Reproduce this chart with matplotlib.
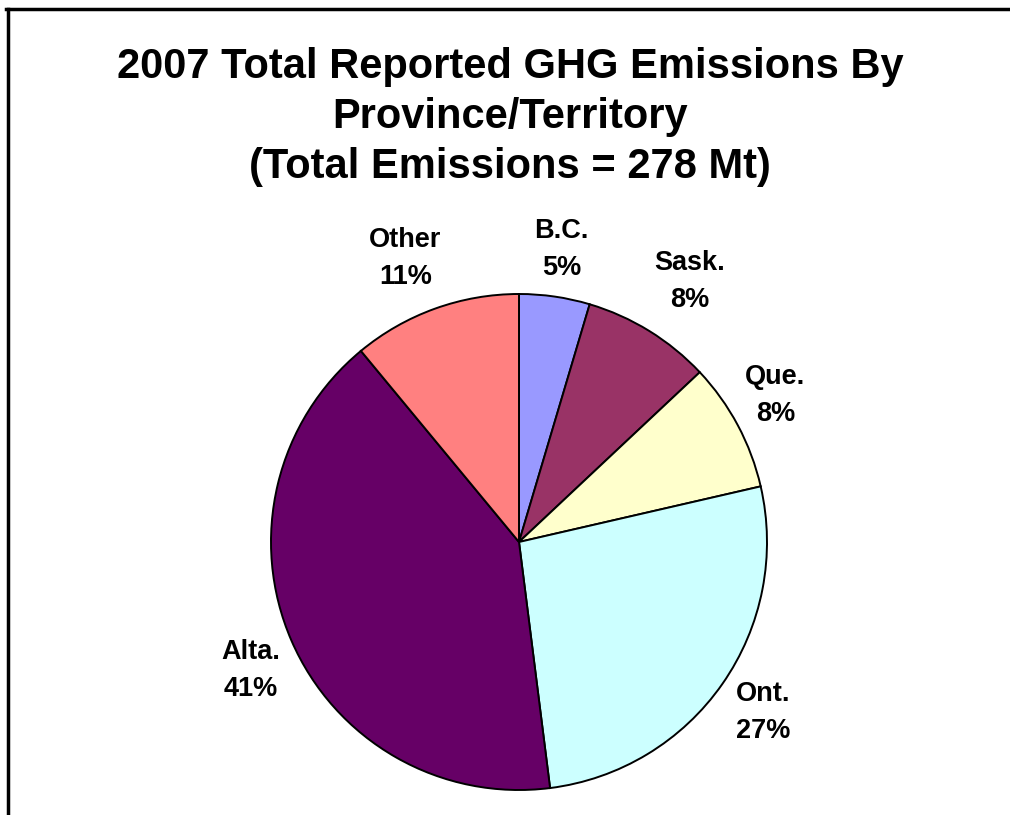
import numpy as np
import matplotlib.pyplot as plt
from matplotlib.lines import Line2D

provinces = ["B.C.", "Sask.", "Que.", "Ont.", "Alta.", "Other"]
shares = [4.6, 8.4, 8.4, 26.6, 41.0, 11.0]
colors = ["#9999FF", "#993366", "#FFFFCC", "#CCFFFF", "#660066", "#FF8080"]
title_lines = ["2007 Total Reported GHG Emissions By",
               "Province/Territory",
               "(Total Emissions = 278 Mt)"]

plt.rcParams["font.family"] = ["Liberation Sans", "DejaVu Sans"]

W, H = 1010, 815
fig = plt.figure(figsize=(W / 100, H / 100), dpi=100)

# pie centre (519, 542) px, radius 248 px
cx, cy, r = 519, 542, 248
ax = fig.add_axes([(cx - r) / W, (H - cy - r) / H, 2 * r / W, 2 * r / H])
wedges, _ = ax.pie(shares, colors=colors, startangle=90, counterclock=False,
                   radius=1.0, wedgeprops=dict(edgecolor="black", linewidth=1.4))
ax.set_xlim(-1, 1)
ax.set_ylim(-1, 1)
ax.set_aspect("equal")
ax.axis("off")

# label distance (in radii) and small angular nudge (deg) per slice
label_dist = [1.19, 1.255, 1.19, 1.20, 1.20, 1.23]
label_nudge = [0.0, -1.6, 1.6, 0.0, 2.2, 2.1]
for w, name, s, d, n in zip(wedges, provinces, shares, label_dist, label_nudge):
    ang = np.deg2rad((w.theta1 + w.theta2) / 2 + n)
    x, y = d * np.cos(ang), d * np.sin(ang)
    ax.text(x, y, f"{name}\n{round(s):d}%", ha="center", va="center",
            fontsize=19.5, fontweight="bold", linespacing=1.55)

for i, t in enumerate(title_lines):
    fig.text(510 / W, 1 - (67 + 50 * i) / H, t, ha="center", va="center",
             fontsize=30, fontweight="bold")

# chart frame (left and top edges visible)
fig.add_artist(Line2D([7.5 / W, 7.5 / W], [0, 1 - 8.5 / H], color="black", lw=2.5,
                      transform=fig.transFigure))
fig.add_artist(Line2D([6.3 / W, 1], [1 - 8.5 / H, 1 - 8.5 / H], color="black", lw=2.5,
                      transform=fig.transFigure))

fig.savefig("out.png", dpi=100)
